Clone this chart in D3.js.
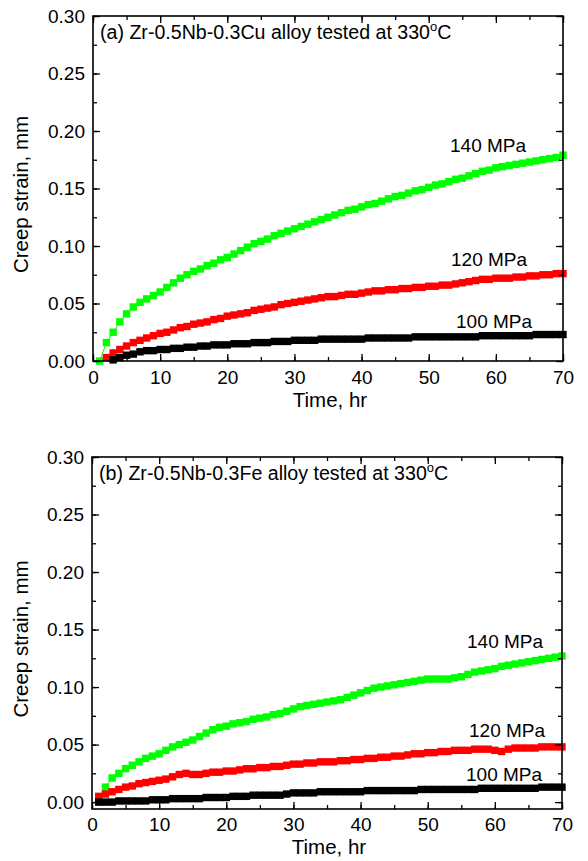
<!DOCTYPE html>
<html><head><meta charset="utf-8">
<script src="https://cdn.jsdelivr.net/npm/d3@7"></script>
<style>
body{margin:0;background:#fff}
svg{display:block}
text{font-family:Arial,"Liberation Sans",Helvetica,sans-serif;fill:#000}
</style>
</head><body>
<script>
// ---- data (creep strain, mm) sampled every hour, t = 1..70 ----
const hours = d3.range(1, 71);
const xTicks = [0, 10, 20, 30, 40, 50, 60, 70];
const yTicks = [0.00, 0.05, 0.10, 0.15, 0.20, 0.25, 0.30];
const stressLabels = ["140 MPa", "120 MPa", "100 MPa"];

const cu140 = [0.000,0.016,0.025,0.034,0.041,0.047,0.051,0.054,0.057,0.060,
 0.064,0.068,0.072,0.075,0.078,0.080,0.083,0.085,0.088,0.090,
 0.093,0.096,0.099,0.102,0.104,0.106,0.109,0.111,0.113,0.115,
 0.117,0.119,0.121,0.123,0.125,0.127,0.129,0.131,0.132,0.134,
 0.136,0.137,0.139,0.141,0.143,0.144,0.146,0.148,0.149,0.151,
 0.153,0.154,0.156,0.158,0.159,0.161,0.163,0.165,0.166,0.168,
 0.169,0.170,0.171,0.172,0.173,0.174,0.175,0.176,0.177,0.179];
const cu120 = [null,0.003,0.007,0.010,0.013,0.016,0.018,0.020,0.022,0.024,
 0.025,0.027,0.029,0.030,0.032,0.033,0.034,0.036,0.037,0.039,
 0.040,0.041,0.042,0.044,0.045,0.046,0.047,0.049,0.050,0.051,
 0.052,0.053,0.054,0.055,0.056,0.056,0.057,0.058,0.058,0.059,
 0.060,0.061,0.061,0.062,0.062,0.063,0.063,0.064,0.064,0.065,
 0.065,0.066,0.066,0.067,0.068,0.069,0.070,0.071,0.071,0.072,
 0.072,0.072,0.073,0.073,0.074,0.074,0.075,0.075,0.076,0.076];
const cu100 = [null,null,0.001,0.003,0.005,0.006,0.008,0.009,0.009,0.010,
 0.010,0.011,0.011,0.012,0.012,0.013,0.013,0.014,0.014,0.014,
 0.015,0.015,0.015,0.016,0.016,0.016,0.017,0.017,0.017,0.018,
 0.018,0.018,0.018,0.019,0.019,0.019,0.019,0.019,0.019,0.019,
 0.020,0.020,0.020,0.020,0.020,0.020,0.020,0.021,0.021,0.021,
 0.021,0.021,0.021,0.021,0.021,0.021,0.021,0.022,0.022,0.022,
 0.022,0.022,0.022,0.022,0.022,0.023,0.023,0.023,0.023,0.023];

const fe140 = [0.000,0.013,0.021,0.025,0.029,0.032,0.035,0.038,0.040,0.042,
 0.045,0.048,0.050,0.052,0.054,0.057,0.060,0.063,0.065,0.066,
 0.068,0.069,0.070,0.072,0.073,0.074,0.076,0.077,0.079,0.081,
 0.083,0.084,0.085,0.086,0.087,0.088,0.089,0.091,0.093,0.095,
 0.097,0.099,0.100,0.101,0.102,0.103,0.104,0.105,0.106,0.107,
 0.107,0.107,0.107,0.108,0.109,0.111,0.113,0.114,0.115,0.116,
 0.118,0.119,0.120,0.121,0.122,0.123,0.124,0.125,0.126,0.127];
const fe120 = [0.005,0.007,0.009,0.011,0.013,0.014,0.016,0.017,0.018,0.019,
 0.020,0.022,0.024,0.025,0.024,0.024,0.025,0.026,0.026,0.027,
 0.027,0.028,0.029,0.029,0.030,0.030,0.031,0.031,0.032,0.033,
 0.033,0.034,0.034,0.035,0.035,0.035,0.036,0.036,0.037,0.037,
 0.038,0.038,0.039,0.039,0.040,0.040,0.041,0.042,0.042,0.043,
 0.043,0.044,0.044,0.045,0.045,0.045,0.046,0.046,0.046,0.045,
 0.044,0.046,0.047,0.047,0.047,0.047,0.048,0.048,0.048,0.048];
const fe100 = [0.000,0.000,0.000,0.001,0.001,0.001,0.001,0.001,0.002,0.002,
 0.002,0.003,0.003,0.003,0.003,0.003,0.004,0.004,0.004,0.004,
 0.005,0.005,0.005,0.006,0.006,0.006,0.006,0.006,0.007,0.008,
 0.008,0.008,0.008,0.009,0.009,0.009,0.009,0.009,0.009,0.009,
 0.010,0.010,0.010,0.010,0.010,0.010,0.010,0.010,0.011,0.011,
 0.011,0.011,0.011,0.011,0.011,0.011,0.011,0.012,0.012,0.012,
 0.012,0.012,0.012,0.012,0.012,0.012,0.013,0.013,0.013,0.013];

const colors = ["#00ff00", "#ff0000", "#000000"];

const W = 588, H = 861;
const svg = d3.select("body").append("svg").attr("width", W).attr("height", H);

function panel(cfg) {
  const x = d3.scaleLinear().domain([0, 70]).range([cfg.left, cfg.right]);
  const y = d3.scaleLinear().domain(cfg.yDomain).range([cfg.bottom, cfg.top]);
  const g = svg.append("g");
  const ms = 7.4;

  // series
  cfg.series.forEach((vals, i) => {
    const pts = hours.map((t, k) => [t, vals[k]]).filter(d => d[1] != null);
    g.append("path").datum(pts)
      .attr("fill", "none").attr("stroke", colors[i]).attr("stroke-width", 1)
      .attr("d", d3.line().x(d => x(d[0])).y(d => y(d[1])));
    g.selectAll(null).data(pts).enter().append("rect")
      .attr("x", d => x(d[0]) - ms / 2).attr("y", d => y(d[1]) - ms / 2)
      .attr("width", ms).attr("height", ms).attr("fill", colors[i]);
  });

  const minorX = d3.range(0, 71, 5);
  const minorY = d3.range(0, 0.3001, 0.025);
  const styleAxis = sel => {
    sel.select(".domain").remove();
    sel.selectAll("line").attr("stroke", "#000").attr("stroke-width", 1.3);
    sel.selectAll("text").style("font-size", "19px").style("font-family", "Arial, 'Liberation Sans', sans-serif");
  };
  // minor ticks
  [["axisBottom", cfg.bottom, x, minorX, "h"], ["axisTop", cfg.top, x, minorX, "h"],
   ["axisLeft", cfg.left, y, minorY, "v"], ["axisRight", cfg.right, y, minorY, "v"]].forEach(a => {
    const ax = d3[a[0]](a[2]).tickValues(a[3]).tickSize(-4).tickFormat("");
    const gg = g.append("g").attr("transform", a[4] === "h" ? `translate(0,${a[1]})` : `translate(${a[1]},0)`).call(ax);
    styleAxis(gg);
  });
  // major ticks with labels
  const xb = g.append("g").attr("transform", `translate(0,${cfg.bottom})`)
    .call(d3.axisBottom(x).tickValues(xTicks).tickSize(-7).tickPadding(cfg.xPad).tickFormat(d3.format("d")));
  styleAxis(xb);
  const xt = g.append("g").attr("transform", `translate(0,${cfg.top})`)
    .call(d3.axisTop(x).tickValues(xTicks).tickSize(-7).tickFormat(""));
  styleAxis(xt);
  const yl = g.append("g").attr("transform", `translate(${cfg.left},0)`)
    .call(d3.axisLeft(y).tickValues(yTicks).tickSize(-7).tickPadding(8).tickFormat(d3.format(".2f")));
  styleAxis(yl);
  const yr = g.append("g").attr("transform", `translate(${cfg.right},0)`)
    .call(d3.axisRight(y).tickValues(yTicks).tickSize(-7).tickFormat(""));
  styleAxis(yr);

  // frame
  g.append("rect").attr("x", cfg.left).attr("y", cfg.top)
    .attr("width", cfg.right - cfg.left).attr("height", cfg.bottom - cfg.top)
    .attr("fill", "none").attr("stroke", "#000").attr("stroke-width", 1.6);

  // title
  const t = g.append("text").attr("x", cfg.left + 7).attr("y", cfg.top + 23).style("font-size", "19.6px");
  t.append("tspan").text(cfg.title);
  t.append("tspan").text("o").style("font-size", "13px").attr("dy", -8);
  t.append("tspan").text("C").attr("dy", 8);

  // stress labels
  cfg.labels.forEach((p, i) => {
    g.append("text").attr("x", p[0]).attr("y", p[1]).style("font-size", "19px").text(stressLabels[i]);
  });

  // axis titles
  g.append("text").attr("x", (cfg.left + cfg.right) / 2 + 2).attr("y", cfg.bottom + cfg.tPad)
    .attr("text-anchor", "middle").style("font-size", "20.5px").text("Time, hr");
  g.append("text").attr("transform", `translate(28,${(cfg.top + cfg.bottom) / 2 + 6}) rotate(-90)`)
    .attr("text-anchor", "middle").style("font-size", "20.5px").text("Creep strain, mm");
}

panel({
  left: 93, right: 563, top: 16, bottom: 361, yDomain: [0, 0.30], xPad: 10, tPad: 46,
  series: [cu140, cu120, cu100],
  title: "(a) Zr-0.5Nb-0.3Cu alloy tested at 330",
  labels: [[450, 152], [451, 266], [456, 328]]
});
panel({
  left: 92, right: 562, top: 457, bottom: 809, yDomain: [-0.006, 0.30], xPad: 9, tPad: 45,
  series: [fe140, fe120, fe100],
  title: "(b) Zr-0.5Nb-0.3Fe alloy tested at 330",
  labels: [[467, 648], [469, 737], [466, 781]]
});
</script>
</body></html>
